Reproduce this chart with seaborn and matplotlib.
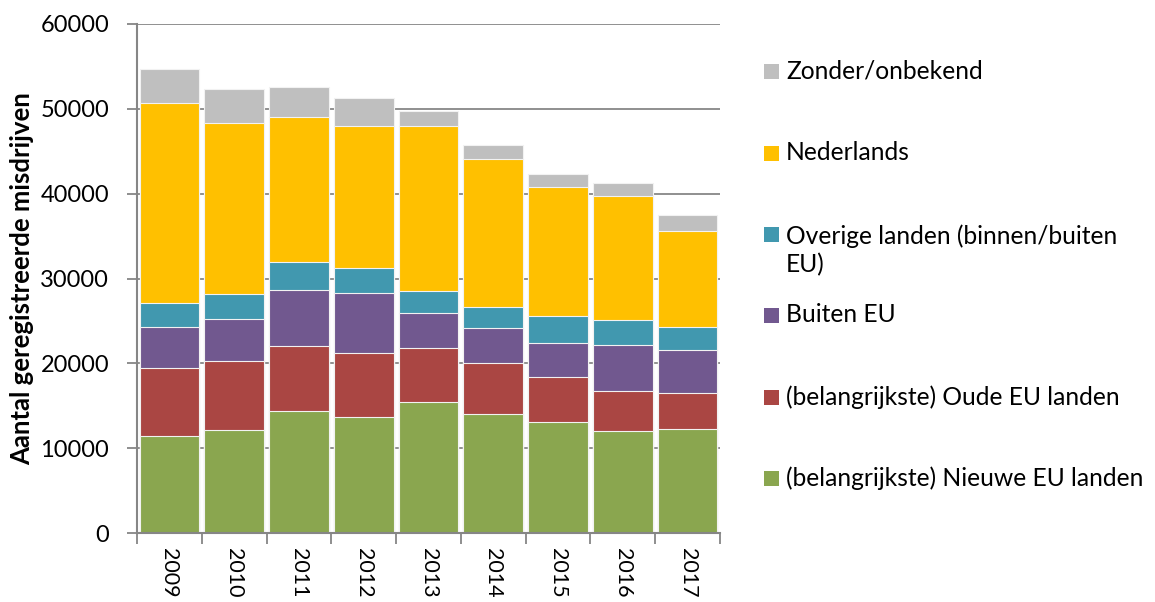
import matplotlib
matplotlib.use("Agg")
import matplotlib.pyplot as plt
from matplotlib.patches import Rectangle
import seaborn as sns
import numpy as np
import pandas as pd

years = ["2009", "2010", "2011", "2012", "2013", "2014", "2015", "2016", "2017"]

nieuwe_eu = [11400, 12190, 14390, 13720, 15450, 14070, 13130, 12070, 12260]
oude_eu = [8060, 8050, 7660, 7510, 6370, 6020, 5270, 4640, 4250]
buiten_eu = [4790, 4960, 6570, 7030, 4120, 4050, 3970, 5420, 5030]
overige = [2910, 3020, 3300, 3030, 2560, 2550, 3220, 2950, 2750]
nederlands = [23510, 20130, 17140, 16710, 19420, 17340, 15170, 14620, 11280]
zonder = [3970, 3970, 3570, 3260, 1800, 1720, 1610, 1530, 1970]

series_names = [
    "(belangrijkste) Nieuwe EU landen",
    "(belangrijkste) Oude EU landen",
    "Buiten EU",
    "Overige landen (binnen/buiten\nEU)",
    "Nederlands",
    "Zonder/onbekend",
]
series_values = [nieuwe_eu, oude_eu, buiten_eu, overige, nederlands, zonder]
colors = ["#8AA64F", "#AA4643", "#71588F", "#4198AF", "#FFC000", "#BFBFBF"]

y_ticks = [0, 10000, 20000, 30000, 40000, 50000, 60000]
y_label = "Aantal geregistreerde misdrijven"

sns.set_theme(style="white")
plt.rcParams["font.family"] = ["Lato", "DejaVu Sans"]

W, H = 1155, 602
fig = plt.figure(figsize=(W / 100, H / 100), dpi=100)
ax = fig.add_axes([137 / W, 1 - 533 / H, (720 - 137) / W, (533 - 24) / H])

cum = np.cumsum(np.array(series_values, dtype=float), axis=0)
df = pd.DataFrame({"year": years})
for i in range(len(series_names) - 1, -1, -1):
    df["v"] = cum[i]
    sns.barplot(data=df, x="year", y="v", color=colors[i], width=0.92,
                edgecolor="#F2F2F2", linewidth=0.8, saturation=1, ax=ax,
                order=years)

ax.set_xlim(-0.5, len(years) - 0.5)
ax.set_ylim(0, 60000)
ax.set_yticks(y_ticks)
ax.set_yticklabels([str(t) for t in y_ticks])
ax.set_axisbelow(True)
ax.yaxis.grid(True, color="#878787", linewidth=1.3)
ax.xaxis.grid(False)

grey = "#868686"
for s in ["top", "right"]:
    ax.spines[s].set_visible(False)
for s in ["left", "bottom"]:
    ax.spines[s].set_color(grey)
    ax.spines[s].set_linewidth(1.5)

ax.tick_params(axis="y", which="major", left=True, length=7, width=1.3,
               color=grey, pad=13, labelsize=17, labelcolor="black")
ax.set_xticks(np.arange(-0.5, len(years), 1.0), minor=True)
ax.tick_params(axis="x", which="minor", bottom=True, length=8, width=1.3,
               color=grey)
ax.tick_params(axis="x", which="major", bottom=False, length=0, pad=11,
               labelsize=15.5, labelcolor="black")
for lab in ax.get_xticklabels():
    lab.set_rotation(-90)
    lab.set_va("top")
    lab.set_ha("center")

ax.set_xlabel("")
ax.set_ylabel(y_label, fontsize=18.5, fontweight="bold", color="black")
ax.yaxis.set_label_coords(-0.177, 0.5)

# legend (top to bottom: reverse stacking order)
legend_y = [71, 153, 250, 315, 397, 478]
order = list(range(len(series_names) - 1, -1, -1))
for yc, i in zip(legend_y, order):
    my = 234.7 if "\n" in series_names[i] else yc
    fig.patches.append(Rectangle((764 / W, 1 - (my + 7.5) / H), 15 / W, 15 / H,
                                 transform=fig.transFigure, facecolor=colors[i],
                                 edgecolor="none"))
    fig.text(786 / W, 1 - yc / H, series_names[i], fontsize=17.7,
             va="center", ha="left", color="black", linespacing=1.25)

fig.savefig("out.png", dpi=100)
